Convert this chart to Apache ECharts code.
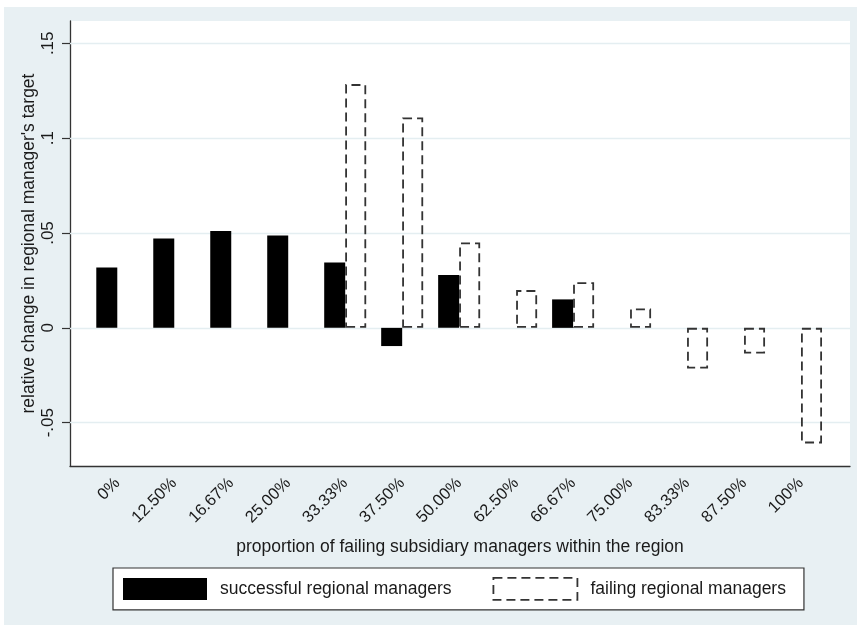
<!DOCTYPE html>
<html>
<head>
<meta charset="UTF-8">
<title>relative change in regional manager's target</title>
<script src="https://cdn.jsdelivr.net/npm/echarts@6/dist/echarts.min.js"></script>
<style>
	body{ margin:0; background:#fff; }
	#bg{ position:absolute; left:4px; top:7px; width:853px; height:618px; background:#e8f0f3; }
	#main{ position:absolute; left:0; top:0; width:857px; height:629px; }
</style>
</head>
<body>
<div id="bg"></div>
<div id="main"></div>
<script>
	// x categories
	var categories = ['0%', '12.50%', '16.67%', '25.00%', '33.33%', '37.50%', '50.00%',
		'62.50%', '66.67%', '75.00%', '83.33%', '87.50%', '100%'];
	// successful regional managers
	var successful = [0.0318, 0.0471, 0.0510, 0.0487, 0.0345, -0.0096, 0.0278,
		null, 0.0150, null, null, null, null];
	// failing regional managers
	var failing = [null, null, null, null, 0.1285, 0.1109, 0.0450,
		0.0199, 0.0241, 0.0102, -0.0214, -0.0135, -0.0609];
	// y tick labels
	var yTicks = [-0.05, 0, 0.05, 0.1, 0.15];

	var font = 'Liberation Sans, Arial, sans-serif';
	var ink = '#333';

	function yLabel(v) {
		var r = Math.round(v * 100) / 100;
		if (r === 0) return '0';
		var s = String(Math.abs(r)).replace(/^0/, '');
		return (r < 0 ? '-' : '') + s;
	}

	var myChart = echarts.init(document.getElementById('main'));
	var option = {
		backgroundColor: 'transparent',
		textStyle: { fontFamily: font },
		grid: [
			// frame: white plot area + axis lines
			{ left: 70, top: 21, right: 7, bottom: 163, show: true, backgroundColor: '#fff', borderWidth: 0 },
			// grid lines + y labels
			{ left: 70, top: 43.3, right: 7, bottom: 206.3 },
			// bars
			{ left: 88.8, top: 43.3, right: 27.5, bottom: 206.3 }
		],
		xAxis: [
			{
				gridIndex: 0, type: 'value', min: 0, max: 1,
				axisLine: { show: true, lineStyle: { color: ink, width: 1.3 } },
				axisTick: { show: false }, axisLabel: { show: false }, splitLine: { show: false },
				name: 'proportion of failing subsidiary managers within the region',
				nameLocation: 'middle', nameGap: 72,
				nameTextStyle: { fontSize: 17.5, color: '#1a1a1a', fontFamily: font }
			},
			{
				gridIndex: 1, type: 'value', min: 0, max: 1, show: false
			},
			{
				gridIndex: 2, type: 'category', data: categories,
				axisLine: { show: false }, axisTick: { show: false },
				axisLabel: { rotate: 45, margin: 58, fontSize: 16.5, color: '#1a1a1a', fontFamily: font, interval: 0 }
			}
		],
		yAxis: [
			{
				gridIndex: 0, type: 'value', min: 0, max: 1,
				axisLine: { show: true, lineStyle: { color: ink, width: 1.3 } },
				axisTick: { show: false }, axisLabel: { show: false }, splitLine: { show: false },
				name: "relative change in regional manager's target",
				nameLocation: 'middle', nameGap: 32,
				nameTextStyle: { fontSize: 17.5, color: '#1a1a1a', fontFamily: font }
			},
			{
				gridIndex: 1, type: 'value', min: yTicks[0], max: yTicks[yTicks.length - 1], interval: 0.05,
				axisLine: { show: false },
				axisTick: { show: true, length: 8, lineStyle: { color: ink, width: 1.2 } },
				axisLabel: { rotate: 90, margin: 13, fontSize: 17, color: '#1a1a1a', fontFamily: font, formatter: yLabel },
				splitLine: { show: true, lineStyle: { color: '#e4eef1', width: 1.3 } },
				z: 1
			},
			{
				gridIndex: 2, type: 'value', min: yTicks[0], max: yTicks[yTicks.length - 1], interval: 0.05,
				show: false, splitLine: { show: false }
			}
		],
		legend: {
			left: 113, top: 568,
			padding: [9, 18, 9, 10],
			itemWidth: 84, itemHeight: 22, itemGap: 41,
			backgroundColor: '#fff', borderColor: ink, borderWidth: 1.2, borderRadius: 0,
			textStyle: { fontSize: 17.5, color: '#1a1a1a', fontFamily: font, padding: [0, 0, 0, 8] },
			data: [
				{ name: 'successful regional managers', icon: 'rect', itemStyle: { color: '#000', borderWidth: 0 } },
				{ name: 'failing regional managers', icon: 'rect',
					itemStyle: { color: 'rgba(0,0,0,0)', borderColor: ink, borderWidth: 1.8, borderType: [9, 5] } }
			]
		},
		series: [
			{
				name: 'successful regional managers', type: 'bar',
				xAxisIndex: 2, yAxisIndex: 2,
				data: successful, barWidth: 21, barGap: '0%', clip: false,
				itemStyle: { color: '#000' }
			},
			{
				name: 'failing regional managers', type: 'bar',
				xAxisIndex: 2, yAxisIndex: 2,
				data: failing, barWidth: 21, barGap: '0%', clip: false,
				itemStyle: { color: 'rgba(0,0,0,0)', borderColor: ink, borderWidth: 1.8, borderType: [9, 5] }
			}
		]
	};
	myChart.setOption(option);
</script>
</body>
</html>
